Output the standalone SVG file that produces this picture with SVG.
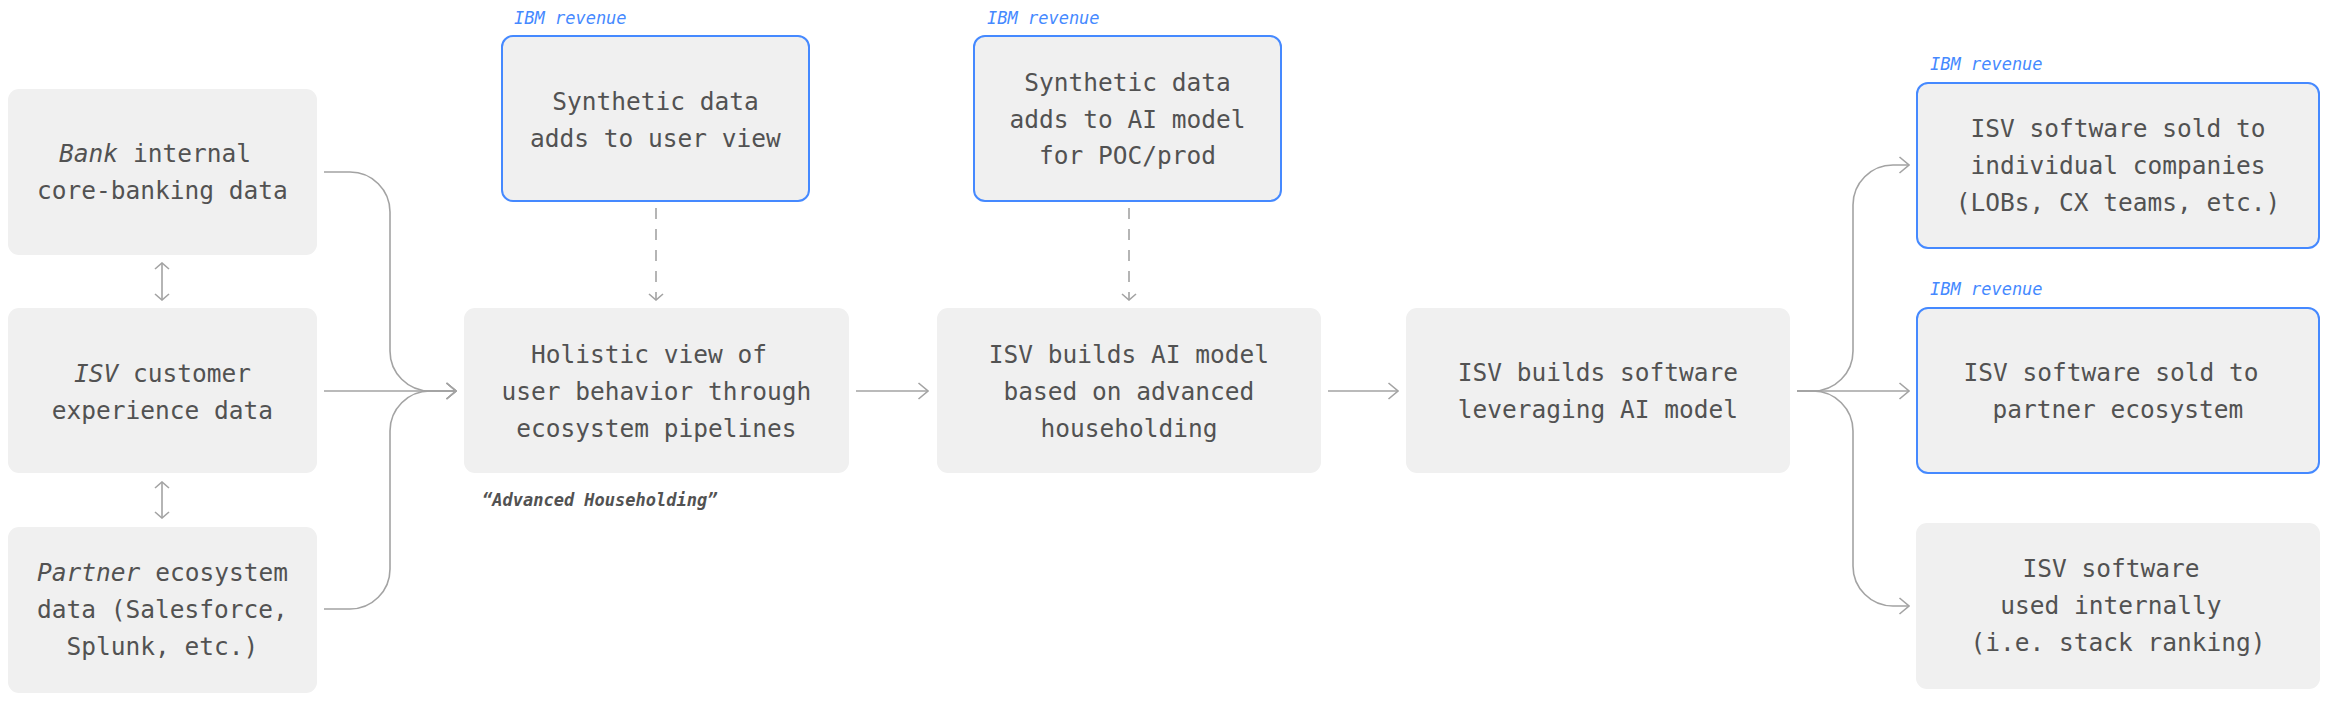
<svg xmlns="http://www.w3.org/2000/svg" width="2333" height="709" viewBox="0 0 2333 709">
<style>
.box{fill:#f0f0f0;}
.rev{fill:#f0f0f0;stroke:#4589ff;stroke-width:2;}
.t{font-family:"DejaVu Sans Mono","Liberation Mono",monospace;font-size:24.5px;fill:#525252;text-anchor:middle;}
.i{font-style:italic;}
.lbl{font-family:"DejaVu Sans Mono","Liberation Mono",monospace;font-size:17px;font-style:italic;fill:#4589ff;}
.note{font-family:"DejaVu Sans Mono","Liberation Mono",monospace;font-size:17px;font-style:italic;font-weight:bold;fill:#525252;}
.c{fill:none;stroke:#a3a3a3;stroke-width:1.6;}
.d{fill:none;stroke:#a3a3a3;stroke-width:1.6;stroke-dasharray:11 10;}
</style>
<defs>
<marker id="arr" viewBox="0 0 12 18" refX="11" refY="9" markerWidth="12" markerHeight="18" orient="auto-start-reverse" markerUnits="userSpaceOnUse">
<path d="M1.5,1 L11,9 L1.5,17" fill="none" stroke="#a3a3a3" stroke-width="1.6"/>
</marker>
<marker id="sm" viewBox="0 0 8 16" refX="7" refY="8" markerWidth="8" markerHeight="16" orient="auto-start-reverse" markerUnits="userSpaceOnUse">
<path d="M1,1 L7,8 L1,15" fill="none" stroke="#a3a3a3" stroke-width="1.6"/>
</marker>
</defs>

<g id="connectors">
<path class="c" d="M324,172 H350 A40,40 0 0 1 390,212 V351 A40,40 0 0 0 430,391 H456" marker-end="url(#arr)"/>
<path class="c" d="M324,391 H456" marker-end="url(#arr)"/>
<path class="c" d="M324,609 H350 A40,40 0 0 0 390,569 V431 A40,40 0 0 1 430,391 H456" marker-end="url(#arr)"/>
<path class="c" d="M162,263 V300" marker-start="url(#sm)" marker-end="url(#sm)"/>
<path class="c" d="M162,482 V518" marker-start="url(#sm)" marker-end="url(#sm)"/>
<path class="d" d="M656,208 V299"/>
<path class="c" d="M656,292 V300" marker-end="url(#sm)" stroke-opacity="0"/>
<path class="d" d="M1129,208 V299"/>
<path class="c" d="M1129,292 V300" marker-end="url(#sm)" stroke-opacity="0"/>
<path class="c" d="M856,391 H928" marker-end="url(#arr)"/>
<path class="c" d="M1328,391 H1398" marker-end="url(#arr)"/>
<path class="c" d="M1797,391 H1909" marker-end="url(#arr)"/>
<path class="c" d="M1797,391 H1813 A40,40 0 0 0 1853,351 V205 A40,40 0 0 1 1893,165 H1909" marker-end="url(#arr)"/>
<path class="c" d="M1797,391 H1813 A40,40 0 0 1 1853,431 V566 A40,40 0 0 0 1893,606 H1909" marker-end="url(#arr)"/>
</g>

<g id="bank">
<rect class="box" x="8" y="89" width="309" height="166" rx="11"/>
<text class="t" x="155" y="162"><tspan class="i">Bank</tspan> internal</text>
<text class="t" x="162.5" y="199">core-banking data</text>
</g>
<g id="isv-cx">
<rect class="box" x="8" y="308" width="309" height="165" rx="11"/>
<text class="t" x="162.5" y="382"><tspan class="i">ISV</tspan> customer</text>
<text class="t" x="162.5" y="419">experience data</text>
</g>
<g id="partner">
<rect class="box" x="8" y="527" width="309" height="166" rx="11"/>
<text class="t" x="162.5" y="581"><tspan class="i">Partner</tspan> ecosystem</text>
<text class="t" x="162.5" y="618">data (Salesforce,</text>
<text class="t" x="162.5" y="655">Splunk, etc.)</text>
</g>

<g id="synth1">
<text class="lbl" x="514" y="24">IBM revenue</text>
<rect class="rev" x="502" y="36" width="307" height="165" rx="11"/>
<text class="t" x="655.5" y="110">Synthetic data</text>
<text class="t" x="655.5" y="147">adds to user view</text>
</g>
<g id="holistic">
<rect class="box" x="464" y="308" width="385" height="165" rx="11"/>
<text class="t" x="649" y="363">Holistic view of</text>
<text class="t" x="656.5" y="400">user behavior through</text>
<text class="t" x="656.5" y="437">ecosystem pipelines</text>
<text class="note" x="482" y="506">“Advanced Householding”</text>
</g>

<g id="synth2">
<text class="lbl" x="987" y="24">IBM revenue</text>
<rect class="rev" x="974" y="36" width="307" height="165" rx="11"/>
<text class="t" x="1127.5" y="91">Synthetic data</text>
<text class="t" x="1127.5" y="128">adds to AI model</text>
<text class="t" x="1127.5" y="164">for POC/prod</text>
</g>
<g id="ai-model">
<rect class="box" x="937" y="308" width="384" height="165" rx="11"/>
<text class="t" x="1129" y="363">ISV builds AI model</text>
<text class="t" x="1129" y="400">based on advanced</text>
<text class="t" x="1129" y="437">householding</text>
</g>
<g id="software">
<rect class="box" x="1406" y="308" width="384" height="165" rx="11"/>
<text class="t" x="1598" y="381">ISV builds software</text>
<text class="t" x="1598" y="418">leveraging AI model</text>
</g>

<g id="sold-companies">
<text class="lbl" x="1930" y="70">IBM revenue</text>
<rect class="rev" x="1917" y="83" width="402" height="165" rx="11"/>
<text class="t" x="2118" y="137">ISV software sold to</text>
<text class="t" x="2118" y="174">individual companies</text>
<text class="t" x="2118" y="211">(LOBs, CX teams, etc.)</text>
</g>
<g id="sold-partner">
<text class="lbl" x="1930" y="295">IBM revenue</text>
<rect class="rev" x="1917" y="308" width="402" height="165" rx="11"/>
<text class="t" x="2111" y="381">ISV software sold to</text>
<text class="t" x="2118" y="418">partner ecosystem</text>
</g>
<g id="internal">
<rect class="box" x="1916" y="523" width="404" height="166" rx="11"/>
<text class="t" x="2111" y="577">ISV software</text>
<text class="t" x="2111" y="614">used internally</text>
<text class="t" x="2118" y="651">(i.e. stack ranking)</text>
</g>
</svg>
